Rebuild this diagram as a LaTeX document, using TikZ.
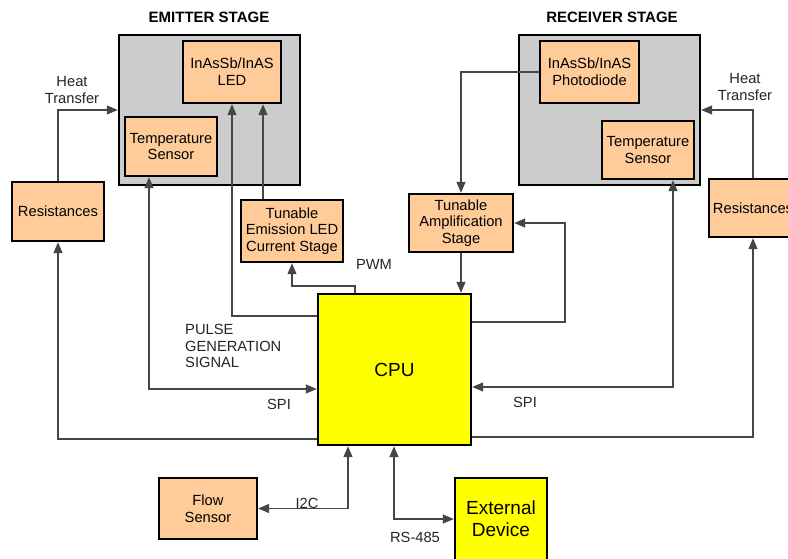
\documentclass[tikz,border=0pt]{standalone}
\usepackage{fontspec}
\setmainfont{Liberation Sans}
\usetikzlibrary{arrows.meta,calc}
\definecolor{peach}{RGB}{255,204,153}
\definecolor{stagegray}{RGB}{204,204,204}
\definecolor{cpuyellow}{RGB}{255,255,0}
\definecolor{linegray}{RGB}{70,70,70}
\begin{document}
\begin{tikzpicture}[x=1pt,y=-1pt,
  txt/.style={font=\fontsize{14.7}{16.8}\selectfont, align=center, inner sep=0pt},
  blk/.style={draw=black, line width=2.4pt, fill=peach, txt, text=black},
  stagebox/.style={draw=black, line width=2.4pt, fill=stagegray},
  cpubox/.style={draw=black, line width=2.4pt, fill=cpuyellow, font=\fontsize{19}{22}\selectfont, align=center, inner sep=0pt},
  conn/.style={draw=linegray, line width=1.2pt},
  tip/.style={-{Triangle[length=11pt,width=9pt]}},
  tips/.style={{Triangle[length=11pt,width=9pt]}-{Triangle[length=11pt,width=9pt]}},
  lbl/.style={txt, text=black!85},
  ttl/.style={font=\fontsize{15}{17}\selectfont\bfseries, inner sep=0pt}
]
\useasboundingbox (0,0) rectangle (788,558);
\clip (0,0) rectangle (788,558);
\fill[white] (0,0) rectangle (788,558);

% titles
\node[ttl] (t1) at (209,17) {EMITTER STAGE};
\node[ttl] (t2) at (612,17) {RECEIVER STAGE};

% stage boxes
\node[stagebox, minimum width=181pt, minimum height=150pt] (Emit) at (209.5,110) {};
\node[stagebox, minimum width=181pt, minimum height=150pt] (Recv) at (609.5,110) {};

% blocks
\node[blk, minimum width=98pt, minimum height=62pt] (LED) at (232,72) {InAsSb/InAS\\LED};
\node[blk, minimum width=92pt, minimum height=59pt] (TempE) at (171,146.5) {Temperature\\Sensor};
\node[blk, minimum width=92pt, minimum height=59pt] (ResL) at (58,211.5) {Resistances};
\node[blk, minimum width=102pt, minimum height=62pt] (TunEm) at (292,231) {Tunable\\Emission LED\\Current Stage};
\node[blk, minimum width=99pt, minimum height=62pt] (PD) at (589.5,72) {InAsSb/InAS\\Photodiode};
\node[blk, minimum width=92pt, minimum height=58pt] (TempR) at (648,150) {Temperature\\Sensor};
\node[blk, minimum width=88pt, minimum height=58pt] (ResR) at (753,208) {Resistances};
\node[blk, minimum width=104pt, minimum height=58pt] (Amp) at (461,223) {Tunable\\Amplification\\Stage};
\node[cpubox, minimum width=153pt, minimum height=151pt] (CPU) at (394.5,369.5) {CPU};
\node[blk, minimum width=98pt, minimum height=61pt] (Flow) at (208,508.5) {Flow\\Sensor};
\node[cpubox, minimum width=92pt, minimum height=82pt] (Ext) at (501,519) {External\\Device};

% connectors
\draw[conn,tip] (ResL.north) |- (Emit.west);
\draw[conn,tip] (ResR.north) |- (Recv.east);
\draw[conn,tip] (CPU.west |- 0,316) -| (LED.south);
\draw[conn,tip] (263,0 |- TunEm.north) -- (263,0 |- LED.south);
\draw[conn,tip] (355,0 |- CPU.north) -- (355,286) -| (TunEm.south);
\draw[conn,tips] (149,0 |- TempE.south) -- (149,389) -- (CPU.west |- 0,389);
\draw[conn,tip] (CPU.west |- 0,439) -| (ResL.south);
\draw[conn,tip] (PD.west) -| (Amp.north);
\draw[conn,tip] (Amp.south) -- (Amp.south |- CPU.north);
\draw[conn,tip] (CPU.east |- 0,322) -- (565,322) |- (Amp.east);
\draw[conn,tips] (673,0 |- TempR.south) -- (673,387) -- (CPU.east |- 0,387);
\draw[conn,tip] (CPU.east |- 0,437) -| (ResR.south);
\draw[conn,tips] (348,0 |- CPU.south) |- (Flow.east);
\draw[conn,tips] (394,0 |- CPU.south) |- (Ext.west);

% labels
\node[lbl] (hl) at (72,90) {Heat\\Transfer};
\node[lbl] (hr) at (745,87) {Heat\\Transfer};
\node[lbl] (pwm) at (374,264) {PWM};
\node[lbl, align=left, anchor=west] (pulse) at (185,346) {PULSE\\GENERATION\\SIGNAL};
\node[lbl] (spil) at (279,404) {SPI};
\node[lbl] (spir) at (525,402) {SPI};
\node[lbl] (i2c) at (307,503) {I2C};
\node[lbl] (rs) at (415,537) {RS-485};
\end{tikzpicture}
\end{document}
